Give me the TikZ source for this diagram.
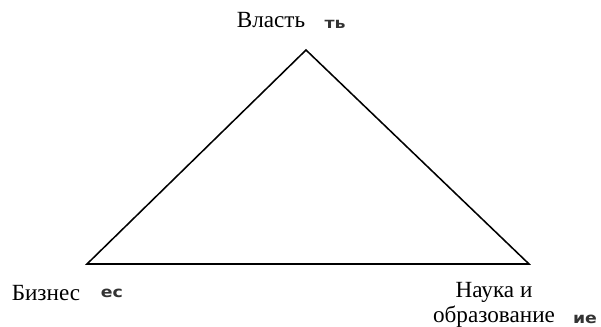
\documentclass[tikz,border=0pt]{standalone}
\usepackage{fontspec}
\setmainfont{Liberation Serif}
\newfontfamily\fragfont{DejaVu Sans}
\usetikzlibrary{positioning}

\begin{document}
\begin{tikzpicture}[
  x=0.0182cm,y=-0.0182cm,
  corner/.style={font=\fontsize{12}{13}\selectfont,inner sep=0pt,align=center},
  frag/.style={font=\fragfont\bfseries\fontsize{7.8}{8}\selectfont,inner sep=0pt,xscale=1.15,text=black!80}
]
\useasboundingbox (0,0) rectangle (601,326);
\coordinate (top) at (306,50);
\coordinate (left) at (87,264);
\coordinate (right) at (529,264);
\draw[line width=0.8pt,line join=miter] (left) -- (top) -- (right) -- cycle;
\node[corner] (power) at (271,20) {Власть};
\node[frag] (powerfrag) at (335,24) {ть};
\node[corner] (business) at (46,293) {Бизнес};
\node[frag] (businessfrag) at (112,293) {ес};
\node[corner] (science) at (494,305) {Наука и\\образование};
\node[frag] (sciencefrag) at (585,319) {ие};
\end{tikzpicture}
\end{document}
